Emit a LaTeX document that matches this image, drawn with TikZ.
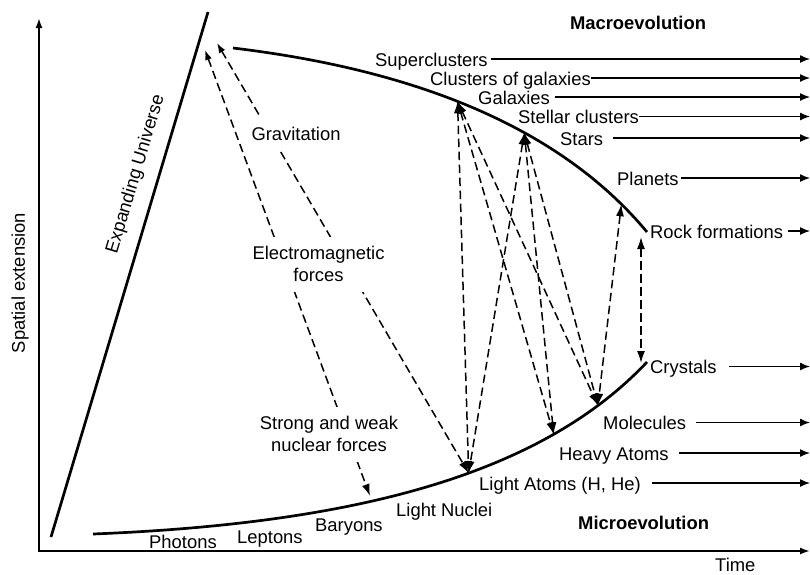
\documentclass[tikz,border=0pt]{standalone}
\usepackage{fontspec}
\setmainfont{Liberation Sans}
\usetikzlibrary{arrows.meta}
\begin{document}
\begin{tikzpicture}[x=1pt,y=-1pt,
  lbl/.style={inner sep=0pt,font=\fontsize{18.4}{21.5}\selectfont},
  boldlbl/.style={lbl,font=\fontsize{18.4}{21.5}\selectfont\bfseries},
  force/.style={lbl,fill=white,inner xsep=3pt,inner ysep=10pt,align=center},
  axisline/.style={line width=1.8pt,line join=miter,{Latex[length=10pt,width=7pt]}-{Latex[length=10pt,width=7pt]}},
  evo/.style={line width=1.4pt,-{Latex[length=10pt,width=8pt]}},
  bound/.style={line width=2.7pt},
  link/.style={line width=1.5pt,dash pattern=on 8.5pt off 4.5pt,{Latex[length=12pt,width=8pt]}-{Latex[length=12pt,width=8pt]}},
  linksmall/.style={link,{Latex[length=10pt,width=7pt]}-{Latex[length=12pt,width=8pt]}},
]
\useasboundingbox (0,0) rectangle (810,574);
\coordinate (E) at (810,0);

% axes
\coordinate (O) at (39,551);
\coordinate (Ytop) at (39,18);
\coordinate (Xend) at (810,551);
\draw[axisline] (Ytop) -- (O) -- (Xend);
\node[lbl,rotate=90] (spat) at (20,283) {Spatial extension};
\node[lbl,anchor=base west] (time) at (715,571) {Time};

% expanding universe
\coordinate (U0) at (51,537);
\coordinate (U1) at (208,12);
\draw[bound] (U0) -- (U1);
\node[lbl,rotate=73.35] (eu) at (136,174) {Expanding Universe};

% boundary curves
\draw[bound] (233,48) .. controls (433,72) and (567,136) .. (647,232)
  coordinate[pos=0.435] (G) coordinate[pos=0.6] (S) coordinate[pos=0.9] (P);
\draw[bound] (93,534) .. controls (343,524) and (537,479) .. (647,362)
  coordinate[pos=0.585] (LA) coordinate[pos=0.76] (HA) coordinate[pos=0.865] (M);

% labels
\node[boldlbl,anchor=base] (mac) at (638,29) {Macroevolution};
\node[boldlbl,anchor=base west] (mic) at (578,529.3) {Microevolution};
\node[lbl,anchor=base west] (sc) at (375,66) {Superclusters};
\node[lbl,anchor=base west] (cg) at (430,85) {Clusters of galaxies};
\node[lbl,anchor=base west] (ga) at (478,104) {Galaxies};
\node[lbl,anchor=base west] (st) at (518,123.5) {Stellar clusters};
\node[lbl,anchor=base west] (sr) at (560,145) {Stars};
\node[lbl,anchor=base west] (pl) at (617,185) {Planets};
\node[lbl,anchor=base west] (rf) at (650,238) {Rock formations};
\node[lbl,anchor=base west] (cr) at (650,373.5) {Crystals};
\node[lbl,anchor=base west] (mo) at (603,429.5) {Molecules};
\node[lbl,anchor=base west] (ha) at (559,460) {Heavy Atoms};
\node[lbl,anchor=base west] (la) at (479,490) {Light Atoms (H, He)};
\node[lbl,anchor=base west] (ln) at (396,516.5) {Light Nuclei};
\node[lbl,anchor=base west] (ba) at (315,531.7) {Baryons};
\node[lbl,anchor=base west] (le) at (237,543.3) {Leptons};
\node[lbl,anchor=base west] (ph) at (149,548.3) {Photons};

% evolution arrows
\draw[evo] ([shift={(3,-7)}]sc.base east) coordinate (sc0) -- (sc0 -| E);
\draw[evo] ([shift={(0,-7)}]cg.base east) coordinate (cg0) -- (cg0 -| E);
\draw[evo] ([shift={(5,-7)}]ga.base east) coordinate (ga0) -- (ga0 -| E);
\draw[evo] ([shift={(0,-7)}]st.base east) coordinate (st0) -- (st0 -| E);
\draw[evo] ([shift={(10,-7)}]sr.base east) coordinate (sr0) -- (sr0 -| E);
\draw[evo] ([shift={(2,-7)}]pl.base east) coordinate (pl0) -- (pl0 -| E);
\draw[evo] ([shift={(5,-7)}]rf.base east) coordinate (rf0) -- (rf0 -| E);
\draw[evo] ([shift={(12,-7)}]cr.base east) coordinate (cr0) -- (cr0 -| E);
\draw[evo] ([shift={(10,-7)}]mo.base east) coordinate (mo0) -- (mo0 -| E);
\draw[evo] ([shift={(10,-7)}]ha.base east) coordinate (ha0) -- (ha0 -| E);
\draw[evo] ([shift={(11,-7)}]la.base east) coordinate (la0) -- (la0 -| E);

% interaction links
\coordinate (T1) at (205,50);
\coordinate (T2) at (217,43);
\coordinate (B1) at (370,496);
\coordinate (R) at (641,237);
\coordinate (C) at (641,363);
\draw[linksmall] (T1) -- (B1);
\draw[linksmall] (T2) -- (LA);
\draw[link] (G) -- (LA);
\draw[link] (G) -- (HA);
\draw[link] (G) -- (M);
\draw[link] (S) -- (LA);
\draw[link] (S) -- (HA);
\draw[link] (S) -- (M);
\draw[link] (P) -- (M);
\draw[link] (R) -- (C);

% force labels
\node[force] (grav) at (296,134) {Gravitation};
\node[force] (em) at (318.5,264) {Electromagnetic\\forces};
\node[force] (snw) at (329,434) {Strong and weak\\nuclear forces};
\end{tikzpicture}
\end{document}
